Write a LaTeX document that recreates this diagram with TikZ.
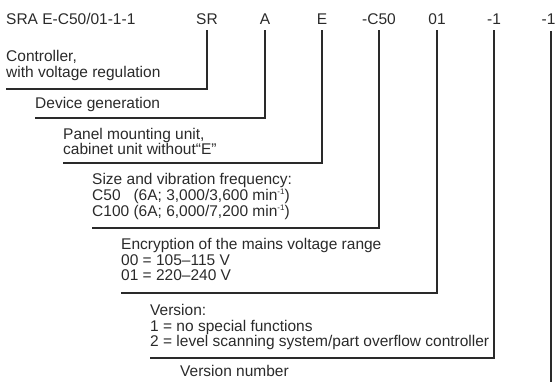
\documentclass[tikz,border=0pt]{standalone}
\usepackage{fontspec}
\setmainfont{Liberation Sans}
\definecolor{ink}{HTML}{2A2A2A}
\newcommand{\supm}{\raisebox{0.75ex}{\fontsize{8}{8}\selectfont -1}}
\begin{document}
\begin{tikzpicture}[x=1pt,y=-1pt,
  txt/.style={inner sep=0pt,anchor=base west,text=ink,font=\fontsize{15.5}{16}\selectfont},
  hdr/.style={inner sep=0pt,anchor=base,text=ink,font=\fontsize{15.5}{16}\selectfont},
  lead/.style={draw=ink,line width=1.1pt}]
\useasboundingbox (0,0) rectangle (555,382);
% header
\node[txt] (code) at (6,25) {SRA E-C50/01-1-1};
\node[hdr] (hSR) at (207,25) {SR};
\node[hdr] (hA) at (265,25) {A};
\node[hdr] (hE) at (322,25) {E};
\node[hdr] (hC) at (379,25) {-C50};
\node[hdr] (h01) at (437,25) {01};
\node[hdr] (hV) at (494,25) {-1};
\node[hdr] (hN) at (548.5,25) {-1};
% corners
\coordinate (lSR) at (6,89);
\coordinate (lA) at (35,118);
\coordinate (lE) at (63,163);
\coordinate (lC) at (92,228);
\coordinate (l01) at (121,293);
\coordinate (lV) at (150,358);
\coordinate (tN) at (551,31);
\coordinate (eN) at (551,382);
% leaders
\draw[lead] (hSR.south) ++(0,5) |- (lSR);
\draw[lead] (hA.south) ++(0,5) |- (lA);
\draw[lead] (hE.south) ++(0,5) |- (lE);
\draw[lead] (hC.south) ++(0,5) |- (lC);
\draw[lead] (h01.south) ++(0,5) |- (l01);
\draw[lead] (hV.south) ++(0,5) |- (lV);
\draw[lead] (tN) -- (eN);
% texts
\node[txt] (t1a) at (6,62) {Controller,};
\node[txt] (t1b) at (6,78) {with voltage regulation};
\node[txt] (t2a) at (35,109) {Device generation};
\node[txt] (t3a) at (63,140) {Panel mounting unit,};
\node[txt] (t3b) at (63,155) {cabinet unit without“E”};
\node[txt] (t4a) at (92,185) {Size and vibration frequency:};
\node[txt] (t4b) at (92,201) {C50\ \ \ (6A; 3,000/3,600 min\supm)};
\node[txt] (t4c) at (92,216.5) {C100 (6A; 6,000/7,200 min\supm)};
\node[txt] (t5a) at (121,250) {Encryption of the mains voltage range};
\node[txt] (t5b) at (121,266) {00 = 105–115 V};
\node[txt] (t5c) at (121,281) {01 = 220–240 V};
\node[txt] (t6a) at (150,316) {Version:};
\node[txt] (t6b) at (150,332) {1 = no special functions};
\node[txt] (t6c) at (150,347) {2 = level scanning system/part overflow controller};
\node[txt] (t7a) at (180,377) {Version number};
\end{tikzpicture}
\end{document}
